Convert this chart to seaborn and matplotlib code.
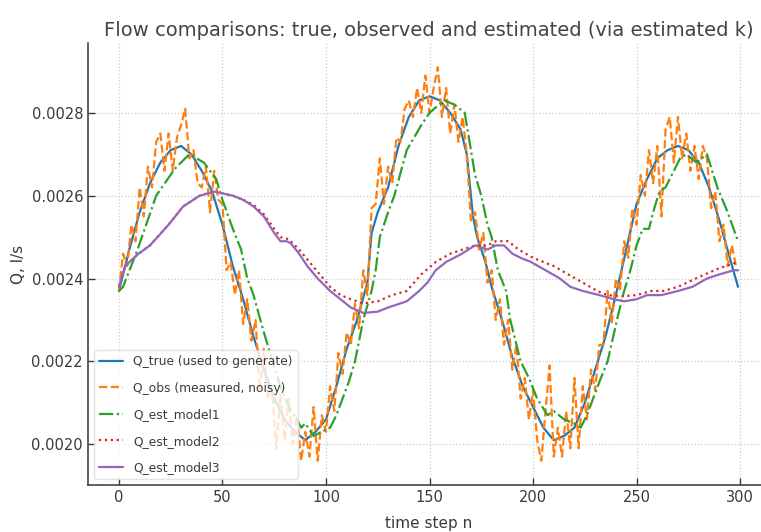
import numpy as np
import pandas as pd
import matplotlib
matplotlib.use("Agg")
import matplotlib.pyplot as plt
import seaborn as sns

# ---- data ----
n_true = [0, 5, 10, 15, 20, 25, 30, 35, 40, 45, 50, 55, 60, 65, 70, 75, 80, 85, 90, 95,
          100, 105, 110, 115, 120, 122, 125, 130, 135, 140, 145, 150, 155, 160, 165, 168,
          170, 171, 173, 177, 180, 185, 190, 195, 200, 205, 210, 215, 220, 225, 230, 235,
          240, 245, 250, 255, 260, 265, 270, 275, 280, 285, 290, 295, 299]
q_true = [0.00237, 0.00247, 0.00256, 0.00263, 0.00268, 0.00271, 0.00272, 0.00270, 0.00266,
          0.00261, 0.00253, 0.00243, 0.00235, 0.00226, 0.00218, 0.00211, 0.00206, 0.00203,
          0.00201, 0.00203, 0.00206, 0.00214, 0.00223, 0.00230, 0.00239, 0.00251, 0.00256,
          0.00262, 0.00272, 0.00279, 0.00283, 0.00284, 0.00283, 0.00280, 0.00276, 0.00270,
          0.00260, 0.00255, 0.00250, 0.00244, 0.00238, 0.00230, 0.00221, 0.00214, 0.00209,
          0.00204, 0.00201, 0.00202, 0.00204, 0.00210, 0.00218, 0.00226, 0.00236, 0.00247,
          0.00258, 0.00264, 0.00269, 0.00271, 0.00272, 0.00271, 0.00268, 0.00262, 0.00254,
          0.00245, 0.00238]

n_obs = list(range(0, 300, 2))
q_obs = [0.00237, 0.00246, 0.00243, 0.00253, 0.00249, 0.00262, 0.00255, 0.00267, 0.00262, 0.00273,
         0.00275, 0.00266, 0.00275, 0.00266, 0.00274, 0.00277, 0.00281, 0.00269, 0.00271, 0.00263,
         0.00262, 0.00267, 0.00256, 0.00266, 0.00259, 0.00258, 0.00242, 0.00244, 0.00236, 0.00242,
         0.00229, 0.00235, 0.00225, 0.00230, 0.00213, 0.00223, 0.00211, 0.00213, 0.00199, 0.00212,
         0.00201, 0.00211, 0.00200, 0.00207, 0.00196, 0.00203, 0.00197, 0.00209, 0.00196, 0.00207,
         0.00203, 0.00214, 0.00208, 0.00222, 0.00217, 0.00227, 0.00224, 0.00234, 0.00228, 0.00242,
         0.00236, 0.00257, 0.00258, 0.00269, 0.00258, 0.00267, 0.00263, 0.00274, 0.00273, 0.00281,
         0.00283, 0.00279, 0.00286, 0.00280, 0.00289, 0.00280, 0.00286, 0.00291, 0.00279, 0.00286,
         0.00275, 0.00282, 0.00273, 0.00279, 0.00270, 0.00254, 0.00256, 0.00247, 0.00251, 0.00239,
         0.00242, 0.00230, 0.00235, 0.00224, 0.00230, 0.00218, 0.00224, 0.00211, 0.00216, 0.00206,
         0.00213, 0.00201, 0.00196, 0.00208, 0.00219, 0.00197, 0.00204, 0.00197, 0.00208, 0.00199,
         0.00216, 0.00199, 0.00214, 0.00206, 0.00218, 0.00213, 0.00224, 0.00224, 0.00237, 0.00229,
         0.00240, 0.00237, 0.00249, 0.00245, 0.00257, 0.00253, 0.00265, 0.00260, 0.00271, 0.00263,
         0.00272, 0.00255, 0.00276, 0.00279, 0.00268, 0.00279, 0.00269, 0.00275, 0.00266, 0.00272,
         0.00264, 0.00272, 0.00269, 0.00257, 0.00261, 0.00249, 0.00253, 0.00243, 0.00248, 0.00243]

n_m1 = [0, 2, 9, 18, 27, 34, 41, 47, 50, 55, 59, 62, 65, 70, 73, 78, 82, 86, 88, 90, 94, 98,
        102, 105, 108, 111, 114, 118, 122, 124, 126, 130, 133, 139, 146, 150, 157, 162, 167,
        169, 172, 175, 178, 180, 183, 187, 189, 194, 198, 202, 207, 210, 215, 220, 223, 226,
        229, 232, 236, 241, 244, 247, 250, 253, 256, 258, 261, 264, 268, 271, 274, 279, 284,
        289, 294, 299]
q_m1 = [0.00237, 0.00238, 0.00247, 0.00260, 0.002665, 0.00270, 0.00268, 0.00264, 0.00259,
        0.00252, 0.00247, 0.00240, 0.00236, 0.00227, 0.00222, 0.00214, 0.00209, 0.00206,
        0.00204, 0.00205, 0.00202, 0.00203, 0.00204, 0.00207, 0.00211, 0.00215, 0.00220,
        0.00230, 0.00237, 0.00242, 0.00250, 0.00256, 0.00260, 0.00271, 0.00277, 0.00280,
        0.00283, 0.00282, 0.00280, 0.00274, 0.00265, 0.00260, 0.00253, 0.00250, 0.00242,
        0.00237, 0.00230, 0.00220, 0.00216, 0.00211, 0.00207, 0.00208, 0.00206, 0.00205,
        0.00204, 0.00207, 0.00211, 0.00215, 0.00220, 0.00231, 0.00237, 0.00242, 0.00248,
        0.00252, 0.00252, 0.00256, 0.00261, 0.00262, 0.00266, 0.00269, 0.00270, 0.00268,
        0.00270, 0.00262, 0.00256, 0.00249]

n_m2 = [0, 3, 9, 15, 24, 31, 39, 46, 55, 60, 65, 70, 75, 78, 82, 87, 92, 97, 102, 107, 112,
        118, 125, 132, 139, 146, 153, 160, 166, 172, 178, 182, 188, 193, 200, 210, 217, 224,
        231, 236, 243, 250, 257, 263, 270, 276, 283, 290, 299]
q_m2 = [0.00238, 0.00243, 0.002458, 0.00248, 0.00253, 0.002574, 0.00260, 0.00261, 0.00260,
        0.00259, 0.002578, 0.002555, 0.00252, 0.00250, 0.002495, 0.00247, 0.00244, 0.00241,
        0.00238, 0.00236, 0.00235, 0.00234, 0.002345, 0.00236, 0.00237, 0.00241, 0.00244,
        0.00246, 0.00247, 0.00248, 0.00248, 0.00249, 0.00249, 0.00247, 0.00245, 0.00243,
        0.00241, 0.00239, 0.00237, 0.00236, 0.002357, 0.00236, 0.00237, 0.00237, 0.00238,
        0.002394, 0.00241, 0.002425, 0.00244]

n_m3 = [0, 3, 9, 15, 24, 31, 39, 46, 55, 60, 65, 70, 75, 78, 81, 83, 87, 91, 96, 102, 107,
        112, 118, 125, 130, 139, 145, 149, 153, 158, 165, 172, 178, 182, 186, 190, 194, 199,
        206, 213, 218, 224, 232, 239, 244, 250, 255, 262, 270, 277, 284, 290, 297, 299]
q_m3 = [0.00238, 0.00243, 0.002458, 0.00248, 0.00253, 0.002574, 0.00260, 0.00261, 0.00260,
        0.00259, 0.002574, 0.00255, 0.00251, 0.00249, 0.00249, 0.002485, 0.00246, 0.00243,
        0.00240, 0.00237, 0.00235, 0.00233, 0.002317, 0.00232, 0.00233, 0.002345, 0.00237,
        0.00239, 0.00242, 0.00244, 0.002458, 0.00248, 0.00247, 0.00248, 0.00248, 0.00246,
        0.00245, 0.00244, 0.00242, 0.00240, 0.00238, 0.00237, 0.00236, 0.00235, 0.002345,
        0.00235, 0.00236, 0.00236, 0.00237, 0.00238, 0.00240, 0.00241, 0.00242, 0.00242]

labels = ["Q_true (used to generate)", "Q_obs (measured, noisy)",
          "Q_est_model1", "Q_est_model2", "Q_est_model3"]

# ---- style ----
sns.set_theme(style="ticks")
plt.rcParams['font.family'] = ['DejaVu Sans']
text_col = "#3a3a3a"
plt.rcParams.update({
    "text.color": text_col,
    "axes.labelcolor": text_col,
    "xtick.color": text_col,
    "ytick.color": text_col,
    "axes.edgecolor": "#444444",
})

fig = plt.figure(figsize=(7.61, 5.32), dpi=100)
ax = fig.add_axes([0.1156, 0.0883, 0.8949, 0.8308])

pal = sns.color_palette("tab10")
series = [
    (n_true, q_true, labels[0], pal[0], "-", 1.6),
    (n_obs, q_obs, labels[1], pal[1], "--", 1.6),
    (n_m1, q_m1, labels[2], pal[2], "-.", 1.6),
    (n_m2, q_m2, labels[3], pal[3], ":", 1.6),
    (n_m3, q_m3, labels[4], pal[4], "-", 1.6),
]
for xs, ys, lab, col, ls, lw in series:
    sns.lineplot(x=xs, y=ys, ax=ax, label=lab, color=col, linestyle=ls,
                 linewidth=lw, sort=False, estimator=None)

ax.set_xlim(-14.95, 313.95)
ax.set_ylim(0.0019015, 0.0029685)
ax.set_xticks([0, 50, 100, 150, 200, 250, 300])
ax.set_yticks([0.0020, 0.0022, 0.0024, 0.0026, 0.0028])
ax.set_yticklabels(["0.0020", "0.0022", "0.0024", "0.0026", "0.0028"])

ax.grid(True, linestyle=":", color="#cccccc", linewidth=0.9)
ax.tick_params(direction="in", labelsize=10.5, length=5, width=1)
sns.despine(ax=ax)
ax.spines["left"].set_linewidth(1.2)
ax.spines["bottom"].set_linewidth(1.2)

ax.set_title("Flow comparisons: true, observed and estimated (via estimated k)",
             fontsize=14, pad=5, color="#444444")
ax.set_xlabel("time step n", fontsize=11, labelpad=8)
ax.set_ylabel("Q, l/s", fontsize=11)

leg = ax.legend(loc="lower left", fontsize=8.8, labelspacing=1.1,
                frameon=True, fancybox=True, framealpha=0.8, edgecolor="#dddddd")

fig.savefig("out.png", dpi=100)
